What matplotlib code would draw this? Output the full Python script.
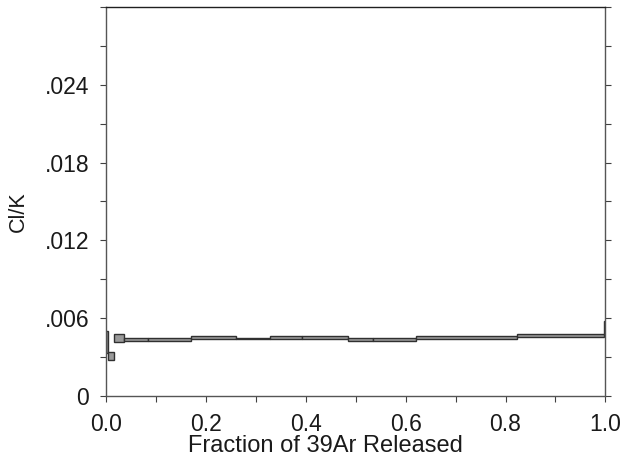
import numpy as np
import matplotlib.pyplot as plt
from matplotlib.ticker import MultipleLocator, FuncFormatter

plt.rcParams['font.family'] = ['Liberation Sans', 'DejaVu Sans']

# cumulative fraction of 39Ar at the edges of each step
frac_edges = [0.0, 0.004, 0.016, 0.036, 0.085, 0.171, 0.260, 0.328,
              0.392, 0.484, 0.534, 0.620, 0.822, 0.997, 1.0]
# Cl/K error box of each step (lower and upper limit)
clk_low = [0.00334, 0.00278, 0.00415, 0.00427, 0.00427, 0.00440, 0.00443,
           0.00440, 0.00440, 0.00427, 0.00427, 0.00442, 0.00453, 0.00479]
clk_high = [0.00504, 0.00341, 0.00479, 0.00445, 0.00445, 0.00461, 0.00446,
            0.00461, 0.00461, 0.00445, 0.00445, 0.00463, 0.00479, 0.00582]

left = np.array(frac_edges[:-1])
width = np.diff(frac_edges)
low = np.array(clk_low)
high = np.array(clk_high)

fig = plt.figure(figsize=(6.29, 4.61), dpi=100)
ax = fig.add_axes([0.1685, 0.141, 0.794, 0.844])

ax.bar(left, high - low, width=width, bottom=low, align='edge',
       color='#9a9a9a', edgecolor='#303030', linewidth=1.0)

ax.set_xlim(0, 1.0)
ax.set_ylim(0, 0.030)

ax.xaxis.set_major_locator(MultipleLocator(0.2))
ax.xaxis.set_minor_locator(MultipleLocator(0.1))
ax.yaxis.set_minor_locator(MultipleLocator(0.003))
ax.set_yticks(np.arange(0, 0.0241, 0.006))
ax.xaxis.set_major_formatter(FuncFormatter(lambda v, p: f"{v:.1f}"))
ax.yaxis.set_major_formatter(
    FuncFormatter(lambda v, p: "0" if abs(v) < 1e-9 else f"{v:.3f}".lstrip("0")))

ax.tick_params(axis='both', which='both', direction='out', length=4,
               width=0.8, color='#404040', labelsize=16.5, labelcolor='#1a1a1a')
ax.tick_params(axis='y', which='both', right=True, pad=8)
ax.tick_params(axis='x', which='both', pad=8)

for side in ['left', 'bottom', 'right']:
    ax.spines[side].set_color('#555555')
    ax.spines[side].set_linewidth(1.0)
ax.spines['top'].set_color('#202020')
ax.spines['top'].set_linewidth(1.0)

ax.set_xlabel('Fraction of 39Ar Released', fontsize=17, color='#1a1a1a')
ax.set_ylabel('Cl/K', fontsize=15.5, color='#1a1a1a')
ax.xaxis.set_label_coords(0.439, -0.10)
ax.yaxis.set_label_coords(-0.155, 0.473)

fig.savefig('out.png', dpi=100)
